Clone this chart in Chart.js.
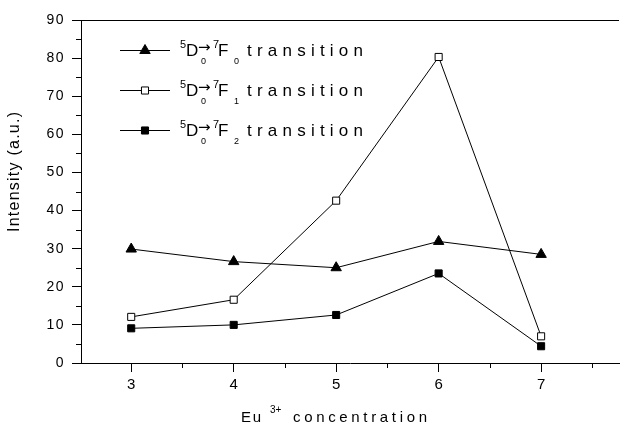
<!DOCTYPE html>
<html><head><meta charset="utf-8">
<script src="https://cdn.jsdelivr.net/npm/chart.js@4/dist/chart.umd.min.js"></script>
<style>html,body{margin:0;padding:0;background:#fff;overflow:hidden}canvas{display:block}</style>
</head><body><canvas id="c" width="626" height="427" style="width:626px;height:427px"></canvas>
<script>
// ---- data ----
const concentrations = [3, 4, 5, 6, 7];
const f0Values = [29.9, 26.6, 25.0, 31.9, 28.5];
const f1Values = [12.1, 16.6, 42.6, 80.3, 7.0];
const f2Values = [9.1, 10.0, 12.6, 23.5, 4.4];
const yTickValues = [0, 10, 20, 30, 40, 50, 60, 70, 80, 90];
const yMinorValues = [5, 15, 25, 35, 45, 55, 65, 75, 85];
const xMinorValues = [2.5, 3.5, 4.5, 5.5, 6.5, 7.5];
const legendSubs = ['0', '1', '2'];
const yTitle = 'Intensity (a.u.)';
const xTitleMain = 'Eu';
const xTitleSup = '3+';
const xTitleRest = 'concentration';

const FONT = '"Liberation Sans", Arial, sans-serif';

function pts(vals) { return concentrations.map((c, i) => ({ x: c, y: vals[i] })); }

function fitText(ctx, text, x, y, width, font) {
  ctx.font = font;
  ctx.letterSpacing = '0px';
  const w0 = ctx.measureText(text).width;
  const n = text.length;
  const s = n > 1 ? (width - w0) / (n - 1) : 0;
  ctx.letterSpacing = s.toFixed(2) + 'px';
  ctx.fillText(text, x, y);
  ctx.letterSpacing = '0px';
}

function drawMarker(ctx, ds, x, y) {
  ctx.save();
  ctx.lineWidth = 1;
  ctx.strokeStyle = ds.pointBorderColor;
  ctx.fillStyle = ds.pointBackgroundColor;
  const r = ds.pointRadius;
  ctx.beginPath();
  if (ds.pointStyle === 'triangle') {
    const dx = r * Math.cos(Math.PI / 6);
    ctx.moveTo(x, y - r); ctx.lineTo(x + dx, y + r / 2); ctx.lineTo(x - dx, y + r / 2); ctx.closePath();
  } else {
    const s = r * Math.SQRT1_2;
    ctx.rect(x - s, y - s, 2 * s, 2 * s);
  }
  ctx.fill(); ctx.stroke();
  ctx.restore();
}

const decorPlugin = {
  id: 'decor',
  beforeDraw(chart) {
    const ys = chart.scales.y;
    if (!ys._spaced) {
      const orig = ys.drawLabels;
      ys.drawLabels = function (a) {
        const c = this.ctx; c.save(); c.letterSpacing = '1.5px'; orig.call(this, a); c.restore();
      };
      ys._spaced = true;
    }
  },
  afterDraw(chart) {
    const ctx = chart.ctx;
    const ca = chart.chartArea;
    const xs = chart.scales.x, ys = chart.scales.y;
    ctx.save();
    ctx.strokeStyle = '#000';
    ctx.fillStyle = '#000';
    ctx.lineWidth = 1;
    // top frame line
    ctx.beginPath();
    ctx.moveTo(ca.left, Math.round(ca.top) + 0.5);
    ctx.lineTo(ca.right, Math.round(ca.top) + 0.5);
    ctx.stroke();
    // minor ticks
    ctx.beginPath();
    yMinorValues.forEach(v => {
      const py = Math.round(ys.getPixelForValue(v)) + 0.5;
      ctx.moveTo(ca.left - 5, py); ctx.lineTo(ca.left, py);
    });
    xMinorValues.forEach(v => {
      if (v < xs.min || v > xs.max) return;
      const px = Math.round(xs.getPixelForValue(v)) + 0.5;
      ctx.moveTo(px, ca.bottom); ctx.lineTo(px, ca.bottom + 5);
    });
    ctx.stroke();

    // legend
    ctx.textAlign = 'left';
    ctx.textBaseline = 'alphabetic';
    const rowY = [50, 90, 130];
    chart.data.datasets.forEach((ds, i) => {
      const y = rowY[i];
      ctx.beginPath();
      ctx.moveTo(120, y + 0.5); ctx.lineTo(170, y + 0.5);
      ctx.stroke();
      drawMarker(ctx, ds, 145, y + 0.5);
      const base = y + 6;
      ctx.font = '11px ' + FONT; ctx.fillText('5', 180, base - 8);
      ctx.font = '17px ' + FONT; ctx.fillText('D', 186, base);
      ctx.font = '15px "DejaVu Sans", sans-serif';
      ctx.textBaseline = 'middle';
      ctx.fillText('\u2192', 198, base - 8);
      ctx.textBaseline = 'alphabetic';
      ctx.font = '9px ' + FONT; ctx.fillText('0', 201, base + 8);
      ctx.font = '11px ' + FONT; ctx.fillText('7', 213, base - 8);
      ctx.font = '17px ' + FONT; ctx.fillText('F', 218, base);
      ctx.font = '9px ' + FONT; ctx.fillText(legendSubs[i], 234, base + 8);
      fitText(ctx, 'transition', 247, base, 116, '17px ' + FONT);
    });

    // x title
    fitText(ctx, xTitleMain, 241, 422, 20, '15px ' + FONT);
    ctx.font = '10px ' + FONT; ctx.fillText(xTitleSup, 270, 413);
    fitText(ctx, xTitleRest, 293, 422, 134, '15px ' + FONT);

    // y title
    ctx.save();
    ctx.translate(19, 172);
    ctx.rotate(-Math.PI / 2);
    fitText(ctx, yTitle, -60, 0, 120, '16px ' + FONT);
    ctx.restore();
    ctx.restore();
  }
};

new Chart(document.getElementById('c'), {
  type: 'line',
  data: {
    datasets: [
      { label: '5D0-7F0 transition', data: pts(f0Values), borderColor: '#000', borderWidth: 1,
        pointStyle: 'triangle', pointRadius: 6, pointBackgroundColor: '#000', pointBorderColor: '#000', pointBorderWidth: 1 },
      { label: '5D0-7F1 transition', data: pts(f1Values), borderColor: '#000', borderWidth: 1,
        pointStyle: 'rect', pointRadius: 5, pointBackgroundColor: '#fff', pointBorderColor: '#000', pointBorderWidth: 1 },
      { label: '5D0-7F2 transition', data: pts(f2Values), borderColor: '#000', borderWidth: 1,
        pointStyle: 'rect', pointRadius: 5, pointBackgroundColor: '#000', pointBorderColor: '#000', pointBorderWidth: 1 }
    ]
  },
  options: {
    responsive: false,
    animation: false,
    devicePixelRatio: 1,
    layout: { padding: { top: 20, right: 0, left: 0, bottom: 0 } },
    plugins: { legend: { display: false }, tooltip: { enabled: false } },
    scales: {
      x: {
        type: 'linear', min: 2.51, max: 7.76,
        afterBuildTicks: s => { s.ticks = concentrations.map(v => ({ value: v })); },
        afterFit: s => { s.height = 64; s.paddingLeft = 0; s.paddingRight = 0; },
        grid: { drawOnChartArea: false, drawTicks: true, tickLength: 9, color: '#000', tickColor: '#000' },
        border: { color: '#000', width: 1 },
        ticks: { color: '#000', font: { family: FONT, size: 15 }, padding: 4, maxRotation: 0, autoSkip: false,
          callback: v => String(v) }
      },
      y: {
        type: 'linear', min: 0, max: 90,
        afterBuildTicks: s => { s.ticks = yTickValues.map(v => ({ value: v })); },
        afterFit: s => { s.width = 81; },
        grid: { drawOnChartArea: false, drawTicks: true, tickLength: 9, color: '#000', tickColor: '#000' },
        border: { color: '#000', width: 1 },
        ticks: { color: '#000', font: { family: FONT, size: 14 }, padding: 7, autoSkip: false,
          callback: v => String(v) }
      }
    }
  },
  plugins: [decorPlugin]
});
</script>
</body></html>
